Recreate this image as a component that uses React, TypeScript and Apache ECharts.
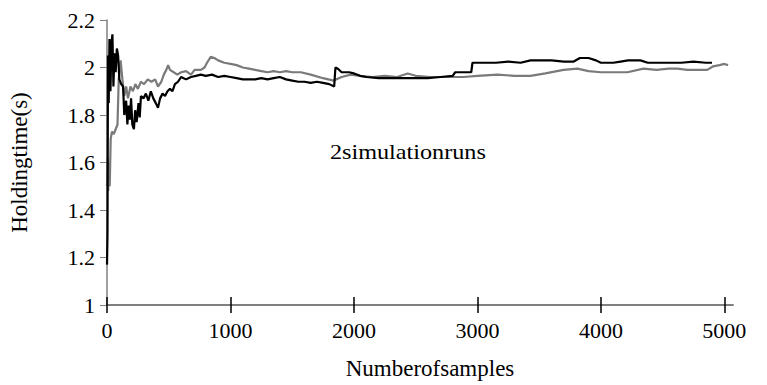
import React, { useEffect, useRef } from "react";
import * as echarts from "echarts";

const xTicks = [0, 1000, 2000, 3000, 4000, 5000];

const blackX = [0, 4, 8, 14, 20, 28, 36, 44, 52, 60, 70, 80, 90, 100, 115, 130, 140, 155, 165, 175, 185, 195, 205, 218, 228, 240, 255, 265, 275, 295, 315, 335, 355, 375, 395, 413, 430, 450, 470, 490, 510, 530, 550, 575, 600, 640, 680, 720, 760, 800, 850, 900, 950, 1000, 1050, 1100, 1150, 1200, 1250, 1300, 1350, 1400, 1450, 1500, 1550, 1600, 1650, 1700, 1750, 1800, 1840, 1850, 1870, 1900, 1960, 2000, 2050, 2100, 2200, 2300, 2400, 2500, 2600, 2700, 2800, 2820, 2900, 2950, 2960, 3050, 3150, 3250, 3350, 3430, 3500, 3600, 3700, 3780, 3830, 3900, 3960, 4000, 4100, 4160, 4220, 4320, 4380, 4450, 4550, 4650, 4750, 4850, 4900];
const blackY = [1.17, 1.30, 2.05, 1.85, 2.12, 1.90, 2.10, 2.14, 1.92, 2.06, 1.98, 2.08, 2.05, 1.95, 1.93, 1.92, 1.80, 1.86, 1.76, 1.84, 1.78, 1.87, 1.76, 1.74, 1.82, 1.77, 1.85, 1.79, 1.88, 1.87, 1.89, 1.86, 1.90, 1.87, 1.85, 1.83, 1.87, 1.89, 1.88, 1.90, 1.91, 1.90, 1.93, 1.94, 1.96, 1.95, 1.96, 1.965, 1.97, 1.965, 1.97, 1.96, 1.965, 1.96, 1.955, 1.95, 1.95, 1.95, 1.955, 1.95, 1.955, 1.96, 1.95, 1.945, 1.94, 1.94, 1.935, 1.94, 1.935, 1.93, 1.92, 2.00, 1.995, 1.98, 1.98, 1.975, 1.965, 1.96, 1.955, 1.955, 1.955, 1.955, 1.955, 1.96, 1.965, 1.98, 1.98, 1.98, 2.02, 2.02, 2.02, 2.025, 2.02, 2.03, 2.03, 2.03, 2.025, 2.025, 2.04, 2.04, 2.03, 2.02, 2.02, 2.025, 2.03, 2.03, 2.02, 2.02, 2.02, 2.02, 2.025, 2.02, 2.02];

const grayX = [0, 5, 10, 16, 22, 30, 40, 55, 70, 85, 95, 110, 125, 140, 155, 170, 190, 210, 230, 250, 275, 300, 330, 360, 390, 413, 440, 460, 480, 495, 510, 540, 570, 600, 640, 680, 710, 760, 790, 810, 840, 870, 900, 950, 1000, 1050, 1100, 1150, 1200, 1250, 1300, 1350, 1400, 1450, 1500, 1570, 1650, 1750, 1836, 1900, 1974, 2050, 2150, 2250, 2350, 2435, 2500, 2620, 2750, 2888, 3000, 3163, 3300, 3430, 3550, 3697, 3810, 3900, 4000, 4100, 4215, 4345, 4450, 4550, 4620, 4700, 4800, 4862, 4910, 4960, 5000, 5030];
const grayY = [1.50, 1.62, 1.48, 1.60, 1.50, 1.70, 1.73, 1.72, 1.74, 1.76, 1.95, 2.03, 1.95, 1.88, 1.92, 1.87, 1.92, 1.90, 1.93, 1.91, 1.94, 1.93, 1.95, 1.94, 1.95, 1.92, 1.94, 1.97, 1.99, 2.01, 1.99, 1.98, 1.97, 1.98, 1.985, 1.97, 1.99, 1.99, 2.00, 2.02, 2.045, 2.04, 2.03, 2.02, 2.015, 2.01, 2.00, 1.995, 1.99, 1.985, 1.98, 1.985, 1.98, 1.985, 1.98, 1.98, 1.97, 1.955, 1.945, 1.96, 1.97, 1.965, 1.96, 1.965, 1.96, 1.975, 1.965, 1.96, 1.96, 1.96, 1.965, 1.97, 1.965, 1.965, 1.975, 1.99, 1.995, 1.985, 1.98, 1.98, 1.98, 1.995, 1.99, 1.995, 1.995, 1.99, 1.99, 1.99, 2.005, 2.01, 2.015, 2.01];

const FONT = "Liberation Serif";

export default function App() {
  const ref = useRef<HTMLDivElement>(null);
  useEffect(() => {
    if (!ref.current) return;
    const chart = echarts.init(ref.current, undefined, { renderer: "svg" });
    const tickStyle = { color: "#000", width: 1.5 };
    chart.setOption({
      animation: false,
      backgroundColor: "#fff",
      grid: { left: 107, right: 34, top: 20, bottom: 77 },
      xAxis: [
        {
          type: "value",
          min: 0,
          max: 5070,
          name: "Numberofsamples",
          nameLocation: "middle",
          nameGap: 52,
          nameTextStyle: { fontFamily: FONT, fontSize: 23, color: "#000", padding: [0, 0, 0, 20] },
          axisLine: { show: true, lineStyle: { color: "#808080", width: 2 } },
          axisTick: { show: true, length: 8, customValues: xTicks, lineStyle: tickStyle },
          axisLabel: {
            customValues: xTicks,
            margin: 14,
            fontFamily: FONT,
            fontSize: 22,
            color: "#000",
            formatter: (v: number) => String(v),
          },
          splitLine: { show: false },
        },
        {
          type: "value",
          position: "bottom",
          min: 0,
          max: 5070,
          axisLine: { show: false },
          axisTick: { show: true, inside: true, length: 8, customValues: xTicks, lineStyle: tickStyle },
          axisLabel: { show: false },
          splitLine: { show: false },
        },
      ],
      yAxis: {
        type: "value",
        min: 1,
        max: 2.2,
        interval: 0.2,
        name: "Holdingtime(s)",
        nameLocation: "middle",
        nameGap: 76,
        nameTextStyle: { fontFamily: FONT, fontSize: 23, color: "#000" },
        axisLine: { show: true, lineStyle: { color: "#808080", width: 1.5 } },
        axisTick: { show: true, length: 7, lineStyle: { color: "#808080", width: 1 } },
        axisLabel: {
          margin: 12,
          fontFamily: FONT,
          fontSize: 22,
          color: "#000",
          formatter: (v: number) => String(parseFloat(v.toFixed(1))),
        },
        splitLine: { show: false },
      },
      graphic: [
        {
          type: "text",
          x: 330,
          y: 140,
          scaleX: 1.1,
          style: {
            text: "2simulationruns",
            fontFamily: FONT,
            fontSize: 22,
            fill: "#000",
            verticalAlign: "top",
          },
        },
      ],
      series: [
        {
          name: "run 2",
          type: "line",
          data: grayX.map((x, i) => [x, grayY[i]]),
          showSymbol: false,
          lineStyle: { color: "#7a7a7a", width: 2.2 },
          z: 2,
        },
        {
          name: "run 1",
          type: "line",
          data: blackX.map((x, i) => [x, blackY[i]]),
          showSymbol: false,
          lineStyle: { color: "#000", width: 2.2 },
          z: 3,
        },
      ],
    });
    return () => chart.dispose();
  }, []);
  return <div ref={ref} style={{ width: 767, height: 385, position: "absolute", left: 0, top: 0 }} />;
}
